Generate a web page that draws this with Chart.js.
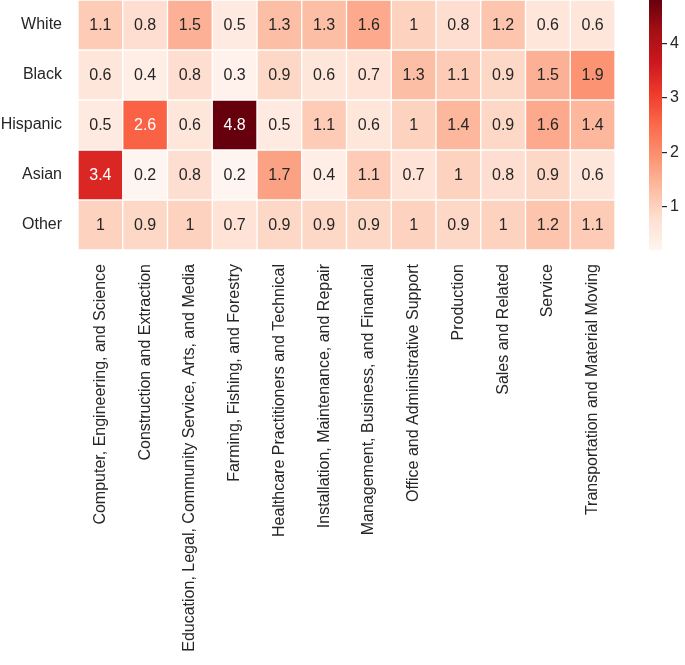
<!DOCTYPE html>
<html lang="en">
<head>
<meta charset="utf-8">
<title>Occupation representation heatmap</title>
<script src="https://cdn.jsdelivr.net/npm/chart.js@4.4.0/dist/chart.umd.min.js"></script>
<style>
  body { margin: 0; background: #fff; }
  #wrap { position: relative; width: 685px; height: 665px; }
  #heat { position: absolute; left: 0; top: 0; }
  #bar { position: absolute; left: 649px; top: 0; }
</style>
</head>
<body>
<div id="wrap">
  <canvas id="heat" width="685" height="665"></canvas>
  <canvas id="bar" width="36" height="250"></canvas>
</div>
<script>
  // rows / columns
  const groups = ['White', 'Black', 'Hispanic', 'Asian', 'Other'];
  const occupations = [
    'Computer, Engineering, and Science',
    'Construction and Extraction',
    'Education, Legal, Community Service, Arts, and Media',
    'Farming, Fishing, and Forestry',
    'Healthcare Practitioners and Technical',
    'Installation, Maintenance, and Repair',
    'Management, Business, and Financial',
    'Office and Administrative Support',
    'Production',
    'Sales and Related',
    'Service',
    'Transportation and Material Moving'
  ];

  const white    = [1.1, 0.8, 1.5, 0.5, 1.3, 1.3, 1.6, 1, 0.8, 1.2, 0.6, 0.6];
  const black    = [0.6, 0.4, 0.8, 0.3, 0.9, 0.6, 0.7, 1.3, 1.1, 0.9, 1.5, 1.9];
  const hispanic = [0.5, 2.6, 0.6, 4.8, 0.5, 1.1, 0.6, 1, 1.4, 0.9, 1.6, 1.4];
  const asian    = [3.4, 0.2, 0.8, 0.2, 1.7, 0.4, 1.1, 0.7, 1, 0.8, 0.9, 0.6];
  const other    = [1, 0.9, 1, 0.7, 0.9, 0.9, 0.9, 1, 0.9, 1, 1.2, 1.1];

  const colorbarTicks = [1, 2, 3, 4];
  const vmin = 0.2, vmax = 4.8;

  const rowsData = [white, black, hispanic, asian, other];

  // matplotlib "Reds"
  const reds = ['#fff5f0', '#fee0d2', '#fcbba1', '#fc9272', '#fb6a4a', '#ef3b2c', '#cb181d', '#a50f15', '#67000d'];
  const FONT = '"Liberation Sans", Arial, sans-serif';
  const TEXT = '#262626';

  function hex2rgb(h) {
    return [parseInt(h.slice(1, 3), 16), parseInt(h.slice(3, 5), 16), parseInt(h.slice(5, 7), 16)];
  }
  function redsRgb(v) {
    let t = (v - vmin) / (vmax - vmin);
    t = Math.max(0, Math.min(1, t));
    const pos = t * (reds.length - 1);
    const i = Math.min(Math.floor(pos), reds.length - 2);
    const f = pos - i;
    const a = hex2rgb(reds[i]), b = hex2rgb(reds[i + 1]);
    return a.map((c, k) => Math.round(c + (b[k] - c) * f));
  }
  function redsColor(v) {
    const c = redsRgb(v);
    return 'rgb(' + c.join(',') + ')';
  }
  // same rule seaborn uses to pick annotation colour
  function luminance(rgb) {
    const l = rgb.map(c => {
      c = c / 255;
      return c <= 0.03928 ? c / 12.92 : Math.pow((c + 0.055) / 1.055, 2.4);
    });
    return 0.2126 * l[0] + 0.7152 * l[1] + 0.0722 * l[2];
  }

  const cellText = {
    id: 'cellText',
    afterDatasetsDraw(chart) {
      const ctx = chart.ctx;
      ctx.save();
      ctx.font = '16px ' + FONT;
      ctx.textAlign = 'center';
      ctx.textBaseline = 'middle';
      chart.data.datasets.forEach((ds, i) => {
        chart.getDatasetMeta(i).data.forEach((bar, j) => {
          const v = ds.values[j];
          ctx.fillStyle = luminance(redsRgb(v)) > 0.408 ? TEXT : '#ffffff';
          const p = bar.getCenterPoint();
          ctx.fillText(String(v), p.x, p.y + 1);
        });
      });
      ctx.restore();
    }
  };

  const datasets = groups.map((g, r) => ({
    label: g,
    values: rowsData[r],
    data: rowsData[r].map(() => [r - 0.5, r + 0.5]),
    backgroundColor: rowsData[r].map(redsColor),
    borderColor: '#ffffff',
    borderWidth: 1,
    borderSkipped: false,
    grouped: false,
    barPercentage: 1,
    categoryPercentage: 1
  }));

  new Chart(document.getElementById('heat'), {
    type: 'bar',
    data: { labels: occupations, datasets: datasets },
    plugins: [cellText],
    options: {
      responsive: false,
      animation: false,
      layout: { padding: { left: 0, right: 70, top: 0, bottom: 0 } },
      plugins: { legend: { display: false }, tooltip: { enabled: false } },
      scales: {
        x: {
          type: 'category',
          grid: { display: false, drawTicks: false },
          border: { display: false },
          ticks: {
            autoSkip: false, maxRotation: 90, minRotation: 90,
            padding: 14, color: TEXT, font: { size: 16, family: FONT }
          },
          afterFit(scale) {
            scale.height = 415;
            scale.paddingLeft = 0; scale.paddingRight = 0;
          }
        },
        y: {
          type: 'linear', min: -0.5, max: 4.5, reverse: true,
          grid: { display: false, drawTicks: false },
          border: { display: false },
          afterBuildTicks(scale) {
            scale.ticks = groups.map((g, i) => ({ value: i }));
          },
          ticks: {
            padding: 16, color: TEXT, font: { size: 16, family: FONT },
            callback: v => groups[v]
          },
          afterFit(scale) {
            scale.width = 78;
            scale.paddingTop = 0; scale.paddingBottom = 0;
          }
        }
      }
    }
  });

  // colour bar
  new Chart(document.getElementById('bar'), {
    type: 'bar',
    data: {
      labels: [''],
      datasets: [{
        data: [[vmin, vmax]],
        backgroundColor: c => {
          const area = c.chart.chartArea;
          if (!area) return reds[4];
          const g = c.chart.ctx.createLinearGradient(0, area.bottom, 0, area.top);
          reds.forEach((col, i) => g.addColorStop(i / (reds.length - 1), col));
          return g;
        },
        borderWidth: 0,
        barPercentage: 1,
        categoryPercentage: 1
      }]
    },
    options: {
      responsive: false,
      animation: false,
      layout: { padding: 0 },
      plugins: { legend: { display: false }, tooltip: { enabled: false } },
      scales: {
        x: { display: false },
        y: {
          position: 'right', min: vmin, max: vmax,
          grid: { drawOnChartArea: false, drawTicks: true, tickLength: 5, color: TEXT, lineWidth: 1.2 },
          border: { display: false },
          afterBuildTicks(scale) {
            scale.ticks = colorbarTicks.map(v => ({ value: v }));
          },
          ticks: { padding: 3, color: TEXT, font: { size: 16, family: FONT } },
          afterFit(scale) {
            scale.width = 23;
            scale.paddingTop = 0; scale.paddingBottom = 0;
          }
        }
      }
    }
  });
</script>
</body>
</html>
